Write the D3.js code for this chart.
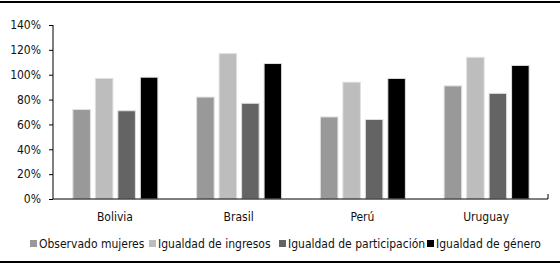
<!DOCTYPE html>
<html>
<head>
<meta charset="utf-8">
<script src="https://cdn.jsdelivr.net/npm/d3@7"></script>
<style>
    body { margin: 0; background: #fff; }
    .chart text { font-family: "DejaVu Sans Condensed", "DejaVu Sans", sans-serif; font-size: 12px; fill: #111; }
    .axis path, .axis line { stroke: #000; }
</style>
</head>
<body>
<svg class="chart" width="560" height="267"></svg>
<script>
var countries = ["Bolivia", "Brasil", "Perú", "Uruguay"];
var seriesNames = ["Observado mujeres", "Igualdad de ingresos", "Igualdad de participación", "Igualdad de género"];
var observado = [0.72, 0.82, 0.66, 0.91];
var ingresos = [0.97, 1.17, 0.94, 1.14];
var participacion = [0.71, 0.77, 0.64, 0.85];
var genero = [0.98, 1.09, 0.97, 1.075];
var yTicks = [0, 0.2, 0.4, 0.6, 0.8, 1.0, 1.2, 1.4];
var colors = ["#999999", "#bdbdbd", "#646464", "#000000"];

var allSeries = [observado, ingresos, participacion, genero];
var data = countries.map(function(c, i){
    return { country: c, values: allSeries.map(function(s, j){ return { key: seriesNames[j], v: s[i] }; }) };
});

var margin = {top: 25, right: 12, bottom: 68, left: 53};
var svg = d3.select("svg");
var W = 560, H = 267;
var width = W - margin.left - margin.right;
var height = H - margin.top - margin.bottom;
var groupW = 85;

// frame lines top and bottom
svg.append("line").attr("x1", 0).attr("x2", W).attr("y1", 2).attr("y2", 2).attr("stroke", "#000").attr("stroke-width", 2);
svg.append("line").attr("x1", 0).attr("x2", W).attr("y1", 262).attr("y2", 262).attr("stroke", "#000").attr("stroke-width", 2);

var g = svg.append("g").attr("transform", "translate(" + margin.left + "," + margin.top + ")");

var x0 = d3.scaleBand().domain(countries).range([0, width]);
var x1 = d3.scaleBand().domain(seriesNames).range([0, groupW]).paddingInner(0.22);
var y = d3.scaleLinear().domain([0, 1.4]).range([height, 0]);

var groups = g.selectAll(".grp").data(data).enter().append("g")
    .attr("transform", function(d){ return "translate(" + (x0(d.country) + x0.bandwidth()/2 - groupW/2 + 0.5) + ",0)"; });

groups.selectAll("rect").data(function(d){ return d.values; }).enter().append("rect")
    .attr("x", function(d){ return x1(d.key); })
    .attr("width", x1.bandwidth())
    .attr("y", function(d){ return y(d.v); })
    .attr("height", function(d){ return height - y(d.v); })
    .attr("fill", function(d, i){ return colors[i]; })
    .attr("stroke", "#e0e0e0")
    .attr("stroke-width", 1);

var yAxis = d3.axisLeft(y).tickValues(yTicks).tickSize(4).tickPadding(8)
    .tickFormat(function(d){ return Math.round(d * 100) + "%"; });
var ya = g.append("g").attr("class", "axis").call(yAxis);
ya.select(".domain").attr("d", "M0," + y(1.4) + "V" + height);

var xAxis = d3.axisBottom(x0).tickSize(0).tickPadding(13);
var xa = g.append("g").attr("class", "axis").attr("transform", "translate(0," + height + ")").call(xAxis);
xa.select(".domain").attr("d", "M0,0H" + width + "V-5");
g.selectAll(".axis text").style("font-size", "12px");

// legend
var legendX = [30, 149, 279, 427];
var legend = svg.append("g").attr("transform", "translate(0,244)");
var items = legend.selectAll("g").data(seriesNames).enter().append("g")
    .attr("transform", function(d, i){ return "translate(" + legendX[i] + ",0)"; });
items.append("rect").attr("x", 0).attr("y", -4).attr("width", 7).attr("height", 7)
    .attr("fill", function(d, i){ return colors[i]; });
items.append("text").attr("x", 9).attr("y", 4).text(function(d){ return d; });
</script>
</body>
</html>
